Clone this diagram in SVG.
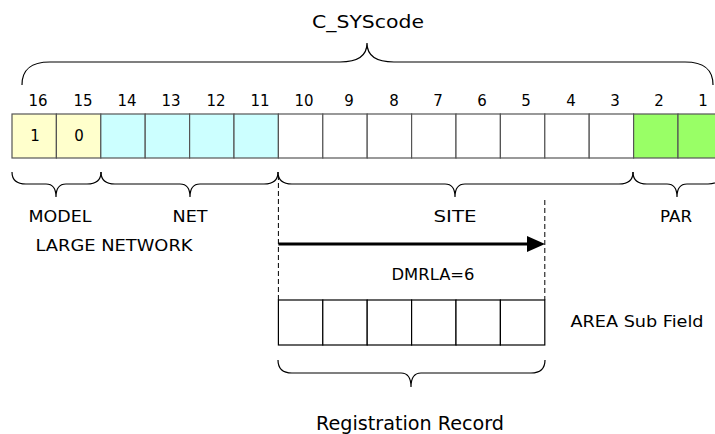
<svg xmlns="http://www.w3.org/2000/svg" width="715" height="434" viewBox="0 0 715 434">
<defs>
<style>
text{font-family:"DejaVu Sans","Liberation Sans",sans-serif;fill:#000}
.num{font-size:15px;text-anchor:middle}
.lbl{font-size:16px;text-anchor:middle}
.big{font-size:18px;text-anchor:middle}
.reg{font-size:19px;text-anchor:middle}
.cell{stroke:#555;stroke-width:1.2}
.y{fill:#FFFFCC}.c{fill:#CCFFFF}.w{fill:#FFFFFF}.g{fill:#99FF66}
.rc{fill:#fff;stroke:#000;stroke-width:1.2}
.brace{fill:none;stroke:#000;stroke-width:1.2}
.dash{stroke:#000;stroke-width:1;stroke-dasharray:5,3}
</style>
</defs>
<rect width="715" height="434" fill="#fff"/>
<text class="big" x="368" y="28" textLength="112" lengthAdjust="spacingAndGlyphs">C_SYScode</text>
<g id="bits">
<g id="b16"><rect class="cell y" x="12" y="114" width="44.4" height="44"/><text class="num" x="38" y="106">16</text><text class="num" x="35" y="141">1</text></g>
<g id="b15"><rect class="cell y" x="56.4" y="114" width="44.4" height="44"/><text class="num" x="83" y="106">15</text><text class="num" x="79" y="141">0</text></g>
<g id="b14"><rect class="cell c" x="100.8" y="114" width="44.4" height="44"/><text class="num" x="127" y="106">14</text></g>
<g id="b13"><rect class="cell c" x="145.2" y="114" width="44.4" height="44"/><text class="num" x="171" y="106">13</text></g>
<g id="b12"><rect class="cell c" x="189.6" y="114" width="44.4" height="44"/><text class="num" x="216" y="106">12</text></g>
<g id="b11"><rect class="cell c" x="234" y="114" width="44.4" height="44"/><text class="num" x="260" y="106">11</text></g>
<g id="b10"><rect class="cell w" x="278.4" y="114" width="44.4" height="44"/><text class="num" x="304" y="106">10</text></g>
<g id="b9"><rect class="cell w" x="322.8" y="114" width="44.4" height="44"/><text class="num" x="349" y="106">9</text></g>
<g id="b8"><rect class="cell w" x="367.2" y="114" width="44.4" height="44"/><text class="num" x="394" y="106">8</text></g>
<g id="b7"><rect class="cell w" x="411.6" y="114" width="44.4" height="44"/><text class="num" x="438" y="106">7</text></g>
<g id="b6"><rect class="cell w" x="456" y="114" width="44.4" height="44"/><text class="num" x="482" y="106">6</text></g>
<g id="b5"><rect class="cell w" x="500.4" y="114" width="44.4" height="44"/><text class="num" x="526" y="106">5</text></g>
<g id="b4"><rect class="cell w" x="544.8" y="114" width="44.4" height="44"/><text class="num" x="571" y="106">4</text></g>
<g id="b3"><rect class="cell w" x="589.2" y="114" width="44.4" height="44"/><text class="num" x="615" y="106">3</text></g>
<g id="b2"><rect class="cell g" x="633.6" y="114" width="44.4" height="44"/><text class="num" x="659" y="106">2</text></g>
<g id="b1"><rect class="cell g" x="678" y="114" width="44.4" height="44"/><text class="num" x="703" y="106">1</text></g>
</g>
<g id="labels">
<text class="lbl" x="60" y="222" textLength="63" lengthAdjust="spacingAndGlyphs">MODEL</text>
<text class="lbl" x="190" y="222" textLength="35" lengthAdjust="spacingAndGlyphs">NET</text>
<text class="lbl" x="455" y="222" textLength="43" lengthAdjust="spacingAndGlyphs">SITE</text>
<text class="lbl" x="676" y="222" textLength="32" lengthAdjust="spacingAndGlyphs">PAR</text>
<text class="lbl" x="114" y="251" textLength="157" lengthAdjust="spacingAndGlyphs">LARGE NETWORK</text>
<text class="lbl" x="433" y="280" textLength="83" lengthAdjust="spacingAndGlyphs">DMRLA=6</text>
<text class="lbl" x="637" y="327" textLength="133" lengthAdjust="spacingAndGlyphs">AREA Sub Field</text>
<text class="reg" x="410" y="430" textLength="188" lengthAdjust="spacingAndGlyphs">Registration Record</text>
</g>
<g id="area">
<rect class="rc" x="278.4" y="300" width="44.4" height="45"/>
<rect class="rc" x="322.8" y="300" width="44.4" height="45"/>
<rect class="rc" x="367.2" y="300" width="44.4" height="45"/>
<rect class="rc" x="411.6" y="300" width="44.4" height="45"/>
<rect class="rc" x="456" y="300" width="44.4" height="45"/>
<rect class="rc" x="500.4" y="300" width="44.4" height="45"/>
</g>
<g id="connectors">
<path class="brace" d="M22,85 C22,70 30,62 50,62 L340,62 C358,62 367,55 367,43 C367,55 376,62 394,62 L685,62 C705,62 713,70 713,85"/>
<path class="brace" d="M12,172 C12,180 16,184 26,184 L46,184 C52,184 56,188 56,197 C56,188 60,184 66,184 L87,184 C97,184 101,180 101,172"/>
<path class="brace" d="M101,172 C101,180 105,184 115,184 L180,184 C186,184 190,188 190,197 C190,188 194,184 200,184 L264,184 C274,184 278,180 278,172"/>
<path class="brace" d="M278,172 C278,180 282,184 292,184 L445,184 C451,184 455,188 455,197 C455,188 459,184 465,184 L619,184 C629,184 633,180 633,172"/>
<path class="brace" d="M633,172 C633,180 637,184 647,184 L667,184 C673,184 677,188 677,197 C677,188 681,184 687,184 L708,184 C718,184 722,180 722,172"/>
<path class="brace" d="M278,360 C278,368 282,373 292,373 L401,373 C407,373 411,377 411,387 C411,377 415,373 421,373 L531,373 C541,373 545,368 545,360"/>
<line class="dash" x1="278.4" y1="175" x2="278.4" y2="300"/>
<line class="dash" x1="544.8" y1="200" x2="544.8" y2="300"/>
<line x1="278.4" y1="244" x2="528" y2="244" stroke="#000" stroke-width="3"/>
<path d="M527,236 L545,244 L527,252 Z" fill="#000"/>
</g>
</svg>
